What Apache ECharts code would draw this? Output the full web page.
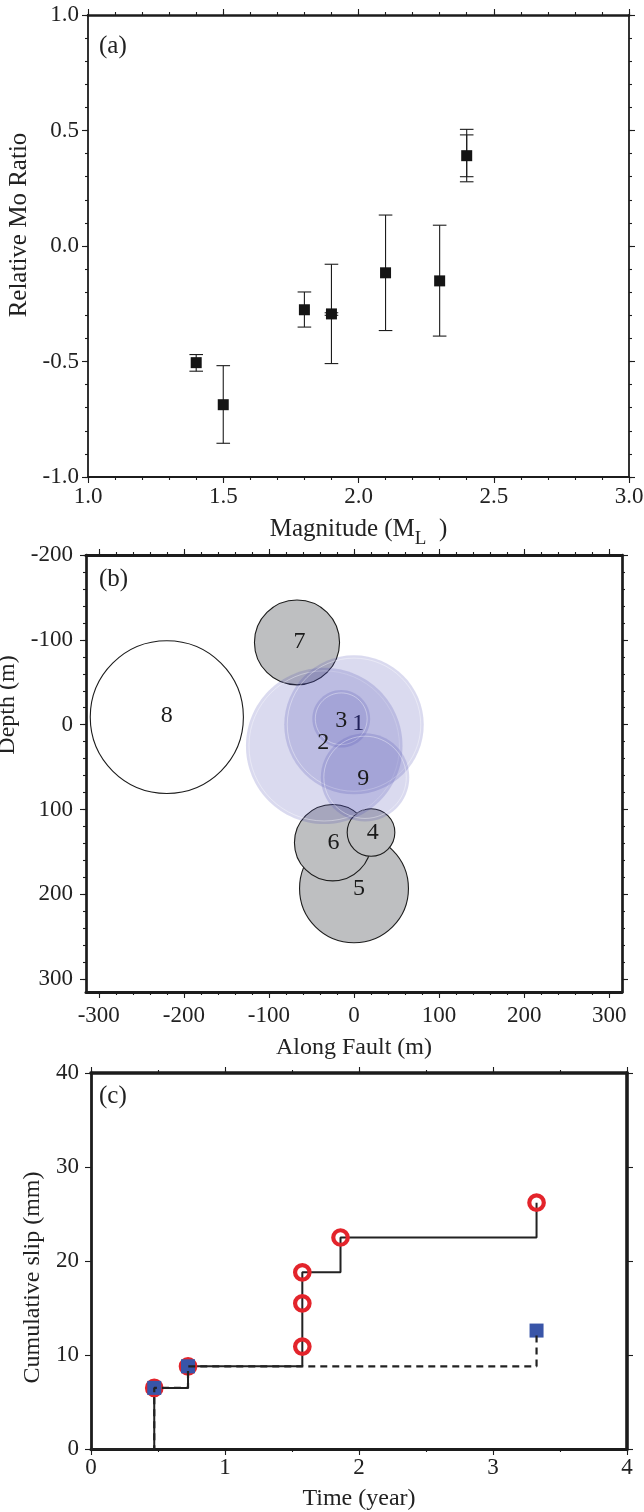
<!DOCTYPE html>
<html><head><meta charset="utf-8">
<script src="https://cdn.jsdelivr.net/npm/echarts@6/dist/echarts.min.js"></script>
<style>html,body{margin:0;padding:0;background:#fff}#c{width:644px;height:1512px}</style>
</head><body><div id="c"></div>
<script>
// ---------- Panel (a): relative Mo ratio vs magnitude ----------
const magnitude  = [1.4, 1.5, 1.8, 1.9, 2.1, 2.3, 2.4];
const moRatio    = [-0.505, -0.687, -0.276, -0.294, -0.116, -0.151, 0.391];
const moErrLow   = [-0.542, -0.854, -0.351, -0.509, -0.366, -0.390, 0.278];
const moErrHigh  = [-0.470, -0.518, -0.199, -0.079, 0.134, 0.090, 0.505];
const magnitude2 = [1.9, 2.4];
const moErrLow2  = [-0.300, 0.300];
const moErrHigh2 = [-0.289, 0.481];
const aTicksX = [1.0, 1.5, 2.0, 2.5, 3.0];
const aTicksY = [-1.0, -0.5, 0.0, 0.5, 1.0];

// ---------- Panel (b): source patches ----------
const srcId     = ['8', '7', '5', '6', '4', '2', '1', '3', '9'];
const srcGroup  = ['C', 'B', 'B', 'B', 'B', 'A', 'A', 'A', 'A'];
const srcAlong  = [-220, -67, 0, -25, 20, -35, 0, -15, 13];
const srcDepth  = [-9, -97, 193, 139, 127, 25, 0, -7, 62];
const srcRadius = [90, 50, 64, 45, 28, 92, 82, 34, 52];
const lblAlong  = [-220, -64, 6, -24, 22, -36, 5, -15, 11];
const lblDepth  = [-11, -98, 193, 139, 127, 21, -1, -5, 64];
const bTicksX = [-300, -200, -100, 0, 100, 200, 300];
const bTicksY = [-200, -100, 0, 100, 200, 300];

// ---------- Panel (c): cumulative slip ----------
const slipTime = [0, 0.472, 0.724, 1.577, 1.577, 1.577, 1.862, 3.325];
const slipCum  = [0, 6.5, 8.8, 10.9, 15.5, 18.8, 22.5, 26.2];
const repTime  = [0, 0.472, 0.724, 3.325];
const repCum   = [0, 6.5, 8.8, 12.6];
const cTicksX = [0, 1, 2, 3, 4];
const cTicksY = [0, 10, 20, 30, 40];

const FONT = '"Liberation Serif","Times New Roman",serif';
const INK = '#1c1c1c';
function rng(a, b, s) { const o = []; for (let v = a; v <= b + 1e-9; v += s) o.push(+v.toFixed(6)); return o; }

const xAxes = [], yAxes = [];
function addAxes(list, gi, isX, s) {
  const posA = isX ? 'bottom' : 'left', posB = isX ? 'top' : 'right';
  const base = { type: 'value', gridIndex: gi, min: s.min, max: s.max, inverse: !!s.inverse,
    splitLine: { show: false }, splitArea: { show: false }, minorTick: { show: false }, minorSplitLine: { show: false } };
  const tick = (vals, len) => ({ show: true, inside: false, length: len, customValues: vals, lineStyle: { color: INK, width: 1.1 } });
  const noLine = { show: false, onZero: false };
  const idx = list.length;
  list.push(Object.assign({}, base, { position: posA,
    axisLine: { show: true, onZero: false, lineStyle: { color: INK, width: s.lineW[0] } },
    axisTick: tick(s.major, 6),
    axisLabel: { show: true, customValues: s.major, formatter: s.fmt, margin: s.margin, fontFamily: FONT, fontSize: 23, color: '#222' },
    name: s.name, nameLocation: 'middle', nameGap: s.nameGap, nameTextStyle: s.nameStyle }));
  if (s.minor) list.push(Object.assign({}, base, { position: posA, axisLine: noLine, axisTick: tick(s.minor, 3), axisLabel: { show: false } }));
  list.push(Object.assign({}, base, { position: posB,
    axisLine: { show: true, onZero: false, lineStyle: { color: INK, width: s.lineW[1] } },
    axisTick: tick(s.major, 6), axisLabel: { show: false } }));
  if (s.minor) list.push(Object.assign({}, base, { position: posB, axisLine: noLine, axisTick: tick(s.minor, 3), axisLabel: { show: false } }));
  return idx;
}
const nameBase = { fontFamily: FONT, fontSize: 24, color: '#222' };

// panel a axes
const axA = addAxes(xAxes, 0, true, { min: 1, max: 3, major: aTicksX, minor: rng(1, 3, 0.1), lineW: [1.9, 2.7],
  fmt: v => (+v).toFixed(1), margin: 8, nameGap: 40,
  name: '{n|Magnitude (M}{s|L}{n|  )}',
  nameStyle: Object.assign({}, nameBase, { rich: {
    n: { fontFamily: FONT, fontSize: 25, color: '#222', verticalAlign: 'bottom', padding: [0, 0, 7, 0] },
    s: { fontFamily: FONT, fontSize: 19, color: '#222', verticalAlign: 'bottom' } } }) });
const ayA = addAxes(yAxes, 0, false, { min: -1, max: 1, major: aTicksY, minor: rng(-1, 1, 0.1), lineW: [1.8, 1.8],
  fmt: v => (+v).toFixed(1), margin: 9, nameGap: 45, name: 'Relative Mo Ratio',
  nameStyle: Object.assign({}, nameBase, { fontSize: 25, padding: [0, 0, 0, 42] }) });
// panel b axes
const axB = addAxes(xAxes, 1, true, { min: -315, max: 315, major: bTicksX, minor: rng(-300, 300, 20), lineW: [3, 3.2],
  margin: 12, nameGap: 44, name: 'Along Fault (m)', nameStyle: nameBase });
const ayB = addAxes(yAxes, 1, false, { min: -200, max: 315, inverse: true, major: bTicksY, minor: rng(-200, 300, 20), lineW: [2.7, 2.7],
  margin: 13, nameGap: 54, name: 'Depth (m)', nameStyle: Object.assign({}, nameBase, { padding: [0, 0, 0, 137] }) });
// panel c axes
const axC = addAxes(xAxes, 2, true, { min: 0, max: 4, major: cTicksX, minor: rng(0, 4, 0.5), lineW: [3.2, 3.6],
  margin: 7, nameGap: 38, name: 'Time (year)', nameStyle: nameBase });
const ayC = addAxes(yAxes, 2, false, { min: 0, max: 40, major: cTicksY, minor: null, lineW: [2.8, 3.6],
  margin: 12, nameGap: 46, name: 'Cumulative slip (mm)', nameStyle: Object.assign({}, nameBase, { padding: [0, 33, 0, 0] }) });

function errRender(params, api) {
  const x = api.value(0), lo = api.value(1), hi = api.value(2);
  const p1 = api.coord([x, hi]), p2 = api.coord([x, lo]);
  const w = 6.8, st = { stroke: INK, lineWidth: 1.1 };
  return { type: 'group', children: [
    { type: 'line', shape: { x1: p1[0], y1: p1[1], x2: p2[0], y2: p2[1] }, style: st },
    { type: 'line', shape: { x1: p1[0] - w, y1: p1[1], x2: p1[0] + w, y2: p1[1] }, style: st },
    { type: 'line', shape: { x1: p2[0] - w, y1: p2[1], x2: p2[0] + w, y2: p2[1] }, style: st } ] };
}

const groupStyle = {
  A: { fill: 'rgba(70,70,175,0.2)', stroke: null, lineWidth: 0 },
  B: { fill: '#bebfc1', stroke: INK, lineWidth: 1.1 },
  C: { fill: '#ffffff', stroke: INK, lineWidth: 1.1 }
};
function circleRender(params, api) {
  const i = params.dataIndex;
  const c = api.coord([api.value(0), api.value(1)]);
  const r = api.value(2);
  const s = api.size([r, r], [api.value(0), api.value(1)]);
  const g = groupStyle[srcGroup[i]];
  const kids = [{ type: 'ellipse', shape: { cx: c[0], cy: c[1], rx: s[0], ry: s[1] }, style: Object.assign({}, g) }];
  if (srcGroup[i] === 'A') {
    kids.push({ type: 'ellipse', shape: { cx: c[0], cy: c[1], rx: s[0] - 3, ry: s[1] - 3 },
      style: { fill: null, stroke: 'rgba(255,255,255,0.55)', lineWidth: 0.7 } });
  }
  return { type: 'group', children: kids };
}
function labelRender(params, api) {
  const i = params.dataIndex;
  const c = api.coord([api.value(0), api.value(1)]);
  return { type: 'text', x: c[0], y: c[1], style: { text: srcId[i], fill: srcId[i] === '1' ? '#22225a' : '#1a1a1a',
    font: '24px ' + FONT, align: 'center', verticalAlign: 'middle' } };
}

const option = {
  animation: false,
  backgroundColor: '#fff',
  title: [
    { text: '(a)', left: 99, top: 34, padding: 0, textStyle: { fontFamily: FONT, fontSize: 25, fontWeight: 'normal', color: '#222', lineHeight: 25 } },
    { text: '(b)', left: 99, top: 567, padding: 0, textStyle: { fontFamily: FONT, fontSize: 25, fontWeight: 'normal', color: '#222', lineHeight: 25 } },
    { text: '(c)', left: 99, top: 1084, padding: 0, textStyle: { fontFamily: FONT, fontSize: 25, fontWeight: 'normal', color: '#222', lineHeight: 25 } }
  ],
  grid: [
    { left: 88, top: 15, width: 541, height: 462, containLabel: false, outerBoundsMode: 'none' },
    { left: 86, top: 555, width: 536, height: 437, containLabel: false, outerBoundsMode: 'none' },
    { left: 91, top: 1073, width: 536, height: 376, containLabel: false, outerBoundsMode: 'none' }
  ],
  xAxis: xAxes,
  yAxis: yAxes,
  series: [
    { type: 'custom', xAxisIndex: axA, yAxisIndex: ayA, renderItem: errRender, silent: true, z: 2,
      encode: { x: 0, y: [1, 2] }, data: magnitude.map((m, i) => [m, moErrLow[i], moErrHigh[i]]) },
    { type: 'custom', xAxisIndex: axA, yAxisIndex: ayA, renderItem: errRender, silent: true, z: 2,
      encode: { x: 0, y: [1, 2] }, data: magnitude2.map((m, i) => [m, moErrLow2[i], moErrHigh2[i]]) },
    { type: 'scatter', xAxisIndex: axA, yAxisIndex: ayA, symbol: 'rect', symbolSize: 11, silent: true, z: 3,
      itemStyle: { color: '#141414', opacity: 1 }, data: magnitude.map((m, i) => [m, moRatio[i]]) },

    { type: 'custom', xAxisIndex: axB, yAxisIndex: ayB, renderItem: circleRender, silent: true, z: 2,
      encode: { x: 0, y: 1 }, data: srcAlong.map((x, i) => [x, srcDepth[i], srcRadius[i]]) },
    { type: 'custom', xAxisIndex: axB, yAxisIndex: ayB, renderItem: labelRender, silent: true, z: 4,
      encode: { x: 0, y: 1 }, data: lblAlong.map((x, i) => [x, lblDepth[i]]) },

    { type: 'line', xAxisIndex: axC, yAxisIndex: ayC, step: 'end', symbol: 'none', silent: true, z: 2,
      lineStyle: { color: '#222', width: 2 }, data: slipTime.map((t, i) => [t, slipCum[i]]) },
    { type: 'scatter', xAxisIndex: axC, yAxisIndex: ayC, symbol: 'circle', symbolSize: 14.5, silent: true, z: 3,
      itemStyle: { color: 'rgba(255,255,255,0)', borderColor: '#e3242b', borderWidth: 4.2, opacity: 1 },
      data: slipTime.slice(1).map((t, i) => [t, slipCum[i + 1]]) },
    { type: 'scatter', xAxisIndex: axC, yAxisIndex: ayC, symbol: 'rect', symbolSize: 14, silent: true, z: 4,
      itemStyle: { color: '#3955a8', opacity: 1 }, data: repTime.slice(1).map((t, i) => [t, repCum[i + 1]]) },
    { type: 'line', xAxisIndex: axC, yAxisIndex: ayC, step: 'end', symbol: 'none', silent: true, z: 5,
      lineStyle: { color: '#222', width: 2.2, type: [7, 5] }, data: repTime.map((t, i) => [t, repCum[i]]) }
  ]
};
const chart = echarts.init(document.getElementById('c'), null, { renderer: 'canvas' });
chart.setOption(option);
</script>
</body></html>
